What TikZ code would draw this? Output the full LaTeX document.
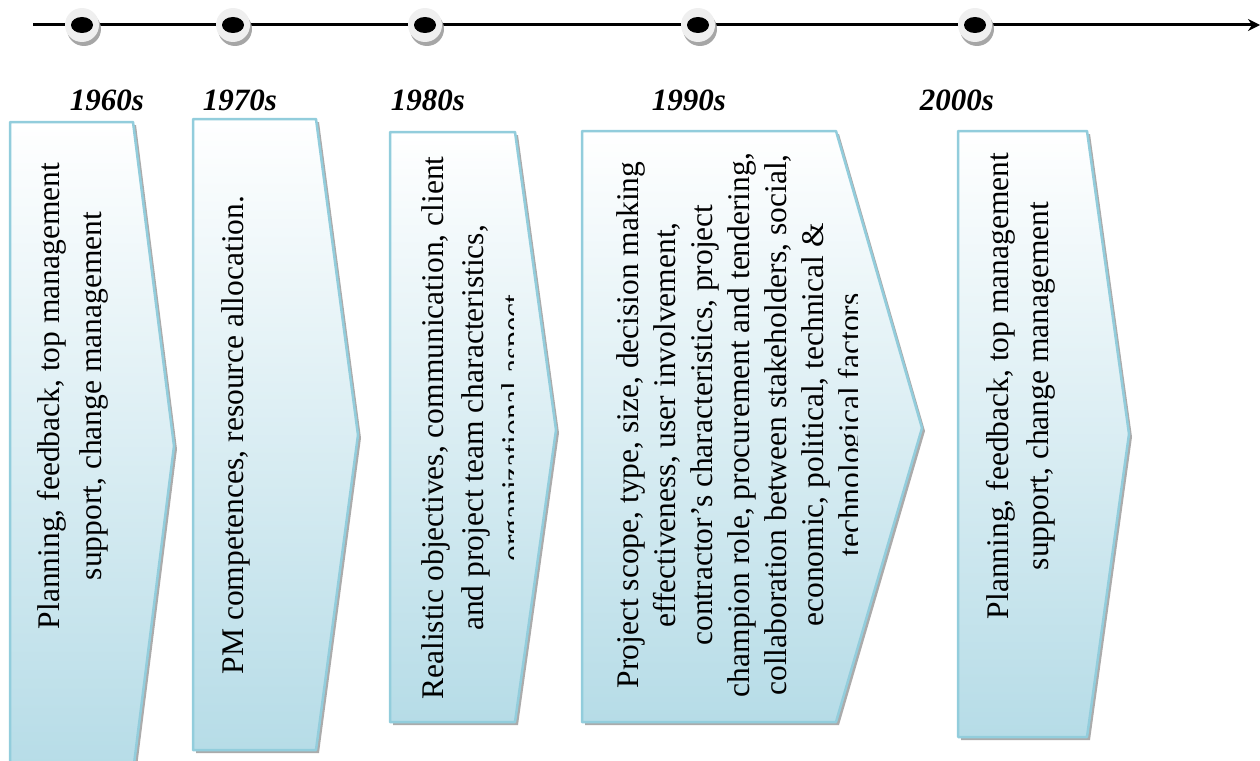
\documentclass[tikz,border=0pt]{standalone}
\usepackage{fontspec}
\setmainfont{Liberation Serif}
\usetikzlibrary{arrows.meta,shadows}
\definecolor{eraedge}{HTML}{92CDDC}
\definecolor{erafill}{HTML}{B6DCE7}
\definecolor{dotgray}{HTML}{EFEFEF}

\begin{document}
\begin{tikzpicture}[x=1pt, y=-1pt, line join=round, >=Stealth,
  era/.style={draw=eraedge, line width=2.5pt, top color=white, bottom color=erafill,
    drop shadow={shadow xshift=3pt, shadow yshift=-3pt, fill=black!60, opacity=.55}},
  tdot/.style={circle, minimum size=34pt, inner sep=0pt, fill=dotgray,
    drop shadow={shadow xshift=2pt, shadow yshift=-4pt, fill=black!35, opacity=1}},
  year/.style={font=\fontsize{31}{36}\selectfont\bfseries\itshape, inner sep=0pt, anchor=base},
  blurb/.style={rotate=90, anchor=north, align=center, inner sep=0pt,
    font=\fontsize{31.5}{40}\selectfont}]
  \useasboundingbox (0,0) rectangle (1260,760);

  % time line
  \coordinate (tl0) at (33,25);
  \coordinate (tl1) at (1260,25);
  \draw[line width=3pt, -{Stealth[length=12pt,width=12pt]}] (tl0) -- (tl1);
  \foreach \x/\n in {82/d1960, 233/d1970, 425/d1980, 698/d1990, 975/d2000} {
    \node[tdot] (\n) at (\x,25) {};
    \fill (\n.center) ellipse (11pt and 8pt);
  }

  % decades
  \node[year] (y1960) at (107,110) {1960s};
  \node[year] (y1970) at (240,110) {1970s};
  \node[year] (y1980) at (428,110) {1980s};
  \node[year] (y1990) at (689,110) {1990s};
  \node[year] (y2000) at (957,110) {2000s};

  % arrow boxes
  \foreach \l/\t/\c/\p/\b/\m in {10/122/133/174/772/446, 193/119/316/358/750/435,
      390/132/515/556/722/430, 582/131/836/922/722/428, 958/131/1087/1129/737/434}
    \path[era] (\l,\t) -- (\c,\t) -- (\p,\m) -- (\c,\b) -- (\l,\b) -- cycle;

  \node[blurb, font=\fontsize{31.5}{42}\selectfont] (t1960) at (37,396)
    {Planning, feedback, top management\\support, change management};
  \node[blurb] (t1970) at (221,435) {PM competences, resource allocation.};
  \begin{scope}
    \clip (390,100) rectangle (513,760);
    \node[blurb] (t1980) at (421,428)
      {Realistic objectives, communication, client\\and project team characteristics,\\organizational aspect};
  \end{scope}
  \begin{scope}
    \clip (582,100) rectangle (857,760);
    \node[blurb, font=\fontsize{31.5}{37}\selectfont] (t1990) at (616,425)
      {Project scope, type, size, decision making\\effectiveness, user involvement,\\contractor’s characteristics, project\\champion role, procurement and tendering,\\collaboration between stakeholders, social,\\economic, political, technical \&\\technological factors};
  \end{scope}
  \node[blurb] (t2000) at (986,386)
    {Planning, feedback, top management\\support, change management};
\end{tikzpicture}
\end{document}
